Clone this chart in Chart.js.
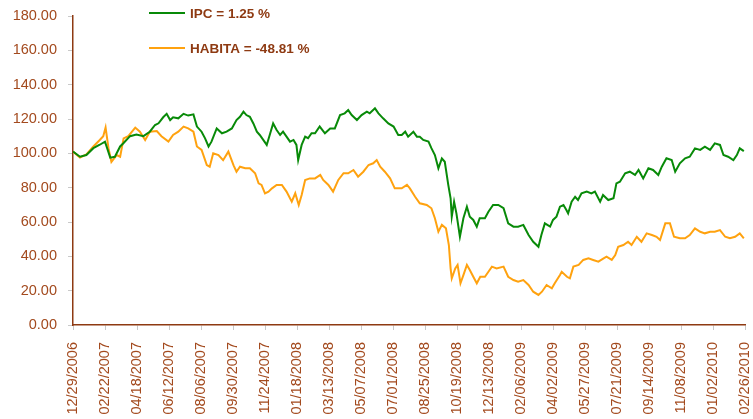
<!DOCTYPE html>
<html>
  <head>
    <title>IPC vs HABITA</title>
    <meta charset="UTF-8">
    <style>
      html, body {
        margin: 0;
        padding: 0;
        background: #fff;
        overflow: hidden;
      }
      .canvas {
        width: 753px;
        height: 419px;
        position: relative;
      }
    </style>
  </head>
  <body>
    <div class="canvas">
      <canvas id="canvas" width="753" height="419"></canvas>
    </div>
    <script src="https://cdn.jsdelivr.net/npm/chart.js@4.4.1/dist/chart.umd.min.js"></script>
    <script>
    // days counted from 12/29/2006, values rebased to 100
    var ipcDays = [0, 12, 23, 35, 46, 55, 64, 72, 81, 87, 98, 109, 121, 132, 141, 147, 155, 161, 167, 172,
        181, 190, 198, 207, 213, 221, 227, 233, 238, 247, 256, 264, 273, 281, 287, 293, 298, 304, 310, 316,
        321, 327, 333, 339, 344, 350, 356, 361, 367, 373, 379, 384, 387, 393, 399, 404, 410, 416, 424, 433,
        442, 450, 459, 467, 473, 479, 488, 496, 505, 510, 519, 525, 533, 542, 551, 559, 565, 571, 576, 585,
        591, 596, 602, 611, 616, 622, 628, 634, 639, 645, 649, 651, 655, 659, 665, 671, 677, 682, 688, 694,
        699, 708, 714, 722, 731, 740, 748, 757, 765, 774, 783, 791, 800, 805, 811, 820, 825, 831, 837, 843,
        848, 851, 857, 863, 868, 874, 883, 891, 897, 906, 911, 920, 929, 934, 940, 949, 957, 966, 972, 980,
        989, 997, 1006, 1012, 1020, 1029, 1035, 1043, 1052, 1060, 1069, 1078, 1086, 1095, 1103, 1112, 1118,
        1126, 1135, 1141, 1146, 1153];
    var ipc = [101, 98, 99, 103, 105, 106.8, 97.5, 98, 104, 106, 110, 111, 110, 112.6, 116.5, 117.5, 121, 123, 119.4, 121,
        120.4, 123, 122, 122.7, 115.6, 112.6, 108.7, 104, 106.8, 114.5, 111.7, 112.6, 114.5, 119.4, 121.3, 124.3, 122.3, 121.3, 117.4, 112.6,
        110.7, 107.8, 104.9, 111.7, 117.4, 113.6, 110.7, 112.6, 109.7, 106.8, 107.8, 104.9, 96.1, 104.9, 109.7, 108.8, 111.7, 111.7, 115.6, 111.7,
        114.5, 114.5, 122.3, 123.3, 125.2, 122.3, 119.4, 122.3, 124.3, 123.3, 126.2, 123.3, 120.4, 117.4, 115.6, 110.7, 110.7, 112.6, 109.7, 112.6,
        109.7, 109.7, 107.8, 106.8, 103, 99, 91.3, 97, 95.1, 81.6, 73.8, 63.1, 71.8, 65, 51.4, 62.2, 68.9, 63.1, 61.2, 57.3,
        62.2, 62.2, 66, 69.9, 69.9, 68, 59.2, 57.3, 57.3, 58.3, 52.4, 48.5, 45.6, 52.4, 59.2, 57.3, 61.2, 63.1, 68.9, 69.9,
        67, 65, 71.8, 74.7, 72.8, 76.7, 77.7, 76.7, 77.7, 71.8, 75.7, 72.8, 73.8, 82.5, 83.5, 88.4, 89.3, 87.4, 90.3, 85.4,
        91.3, 90.3, 87.4, 92.2, 97.1, 96.1, 89.3, 94.2, 97.1, 98, 102.9, 102, 103.9, 102, 105.8, 104.9, 99,
        98, 96.1, 99, 102.9, 101.25];

    var habitaDays = [0, 12, 23, 35, 46, 52, 56, 61, 66, 75, 81, 87, 95, 107, 115, 124, 132, 144, 152, 164,
        172, 181, 190, 198, 207, 213, 221, 230, 235, 241, 250, 258, 267, 276, 281, 287, 296, 304, 313, 319,
        324, 330, 336, 342, 350, 359, 367, 376, 382, 388, 393, 399, 407, 416, 425, 430, 439, 447, 456, 465,
        473, 482, 490, 499, 508, 516, 522, 528, 536, 545, 553, 559, 565, 574, 579, 588, 596, 608, 616, 622,
        628, 634, 641, 646, 649, 651, 657, 661, 666, 671, 677, 682, 688, 694, 700, 708, 714, 720, 728, 740,
        748, 757, 765, 774, 783, 791, 800, 806, 814, 823, 828, 837, 840, 849, 854, 860, 869, 877, 886, 894,
        903, 912, 917, 926, 932, 937, 946, 954, 960, 969, 977, 986, 995, 1003, 1009, 1018, 1026, 1033, 1043,
        1052, 1060, 1069, 1078, 1086, 1095, 1103, 1112, 1121, 1129, 1138, 1146, 1153];
    var habita = [101, 97.5, 99.4, 104, 107.8, 110, 115, 103, 95, 99, 98, 108.7, 110, 115, 112.6, 107.8, 112.6, 113, 110, 106.8,
        110.7, 112.6, 115.6, 114.5, 112.6, 104, 102, 93.2, 92.2, 100, 99, 96, 101, 93, 89.3, 92.2, 91.3, 91.3, 88.4, 82.5,
        81.6, 76.7, 77.7, 79.6, 81.6, 81.6, 77.7, 71.8, 76.7, 69.9, 75.7, 84.5, 85.4, 85.4, 87.4, 84.5, 81.6, 77.7, 84.5, 88.4,
        88.4, 90.3, 86.4, 89.3, 93.2, 94.2, 96.1, 92.2, 89.3, 85.4, 79.6, 79.6, 79.6, 81.6, 79.6, 74.7, 70.9, 69.9, 68, 62.2,
        54.3, 58.3, 56.3, 46.6, 33, 27.2, 33, 35, 24.3, 29.1, 35, 32, 28.1, 24.3, 28.1, 28.1, 31, 34, 33, 34,
        28.1, 26.2, 25.2, 26.2, 23.3, 19.4, 17.5, 19.4, 23.3, 21.4, 24.3, 29.1, 31, 28.1, 27.2, 34, 35, 37.9, 38.8, 37.9,
        36.9, 38.8, 39.8, 37.9, 40.8, 45.6, 46.6, 48.5, 46.6, 51.4, 48.5, 53.4, 52.4, 51.4, 49.5, 59.2, 59.2, 51.4, 50.5,
        50.5, 52.4, 56.3, 54.3, 53.4, 54.3, 54.3, 55.3, 51.4, 50.5, 51.4, 53.4, 50.5];

    var seriesLabels = ['IPC = 1.25 %', 'HABITA = -48.81 %'];
    var startDate = Date.UTC(2006, 11, 29);
    var tickStep = 55;   // days between date labels
    var lastDay = 1155;  // 02/26/2010

    function toPoints(days, values) {
        return days.map(function(d, i) {
            return { x: d, y: values[i] };
        });
    }

    function pad(n) {
        return (n < 10 ? '0' : '') + n;
    }

    function formatDay(v) {
        var d = new Date(startDate + v * 86400000);
        return pad(d.getUTCMonth() + 1) + '/' + pad(d.getUTCDate()) + '/' + d.getUTCFullYear();
    }

    var brown = '#8e3a12';
    var textBrown = '#a34a1e';
    var fontFamily = '"Liberation Sans", Arial, Helvetica, sans-serif';

    // legend drawn as two stacked rows at the top of the chart
    var stackedLegend = {
        id: 'stackedLegend',
        afterDraw: function(chart) {
            var ctx = chart.ctx;
            ctx.save();
            chart.data.datasets.forEach(function(ds, i) {
                var y = 13 + i * 35;
                ctx.strokeStyle = ds.borderColor;
                ctx.lineWidth = 2;
                ctx.beginPath();
                ctx.moveTo(149, y);
                ctx.lineTo(185, y);
                ctx.stroke();
                ctx.fillStyle = brown;
                ctx.font = 'bold 13.5px ' + fontFamily;
                ctx.textBaseline = 'middle';
                ctx.fillText(ds.label, 190, y + 1);
            });
            ctx.restore();
        }
    };

    var ctx = document.getElementById('canvas').getContext('2d');
    var chart = new Chart(ctx, {
        type: 'line',
        data: {
            datasets: [
                {
                    label: seriesLabels[0],
                    data: toPoints(ipcDays, ipc),
                    borderColor: '#088a08',
                    backgroundColor: '#088a08',
                    borderWidth: 2,
                    pointRadius: 0,
                    tension: 0,
                    fill: false
                },
                {
                    label: seriesLabels[1],
                    data: toPoints(habitaDays, habita),
                    borderColor: '#ffa20f',
                    backgroundColor: '#ffa20f',
                    borderWidth: 2,
                    pointRadius: 0,
                    tension: 0,
                    fill: false
                }
            ]
        },
        options: {
            responsive: false,
            animation: false,
            devicePixelRatio: 1,
            layout: {
                padding: { top: 16, right: 8, left: 0, bottom: 0 }
            },
            plugins: {
                legend: { display: false },
                tooltip: { enabled: false }
            },
            scales: {
                x: {
                    type: 'linear',
                    min: 0,
                    max: lastDay,
                    afterFit: function(scale) {
                        scale.height = 94;
                        scale.paddingLeft = 0;
                        scale.paddingRight = 0;
                    },
                    afterBuildTicks: function(scale) {
                        var ticks = [];
                        for (var v = 0; v <= lastDay; v += tickStep) {
                            ticks.push({ value: v });
                        }
                        scale.ticks = ticks;
                    },
                    ticks: {
                        autoSkip: false,
                        minRotation: 90,
                        maxRotation: 90,
                        padding: 12,
                        color: textBrown,
                        font: { family: fontFamily, size: 14.5 },
                        callback: function(v) { return formatDay(v); }
                    },
                    grid: {
                        drawOnChartArea: false,
                        color: '#c9c9c9',
                        tickLength: 5
                    },
                    border: { color: brown, width: 1.5 }
                },
                y: {
                    min: 0,
                    max: 180,
                    afterFit: function(scale) {
                        scale.width = 73;
                        scale.paddingTop = 0;
                        scale.paddingBottom = 0;
                    },
                    ticks: {
                        stepSize: 20,
                        padding: 11,
                        color: textBrown,
                        font: { family: fontFamily, size: 14.5 },
                        callback: function(v) { return v.toFixed(2); }
                    },
                    grid: {
                        drawOnChartArea: false,
                        color: '#c9c9c9',
                        tickLength: 5
                    },
                    border: { color: brown, width: 1.5 }
                }
            }
        },
        plugins: [stackedLegend]
    });
    </script>
  </body>
</html>
